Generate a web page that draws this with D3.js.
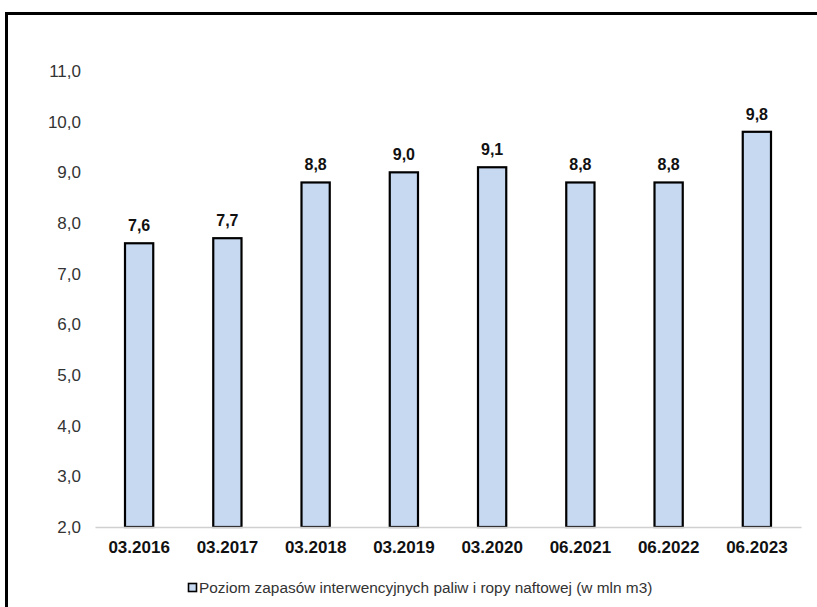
<!DOCTYPE html>
<html>
<head>
<meta charset="utf-8">
<script src="https://cdn.jsdelivr.net/npm/d3@7"></script>
<style>
  html, body { margin: 0; padding: 0; background: #fff; }
  svg { display: block; font-family: "Liberation Sans", Arial, sans-serif; }
</style>
</head>
<body>
<svg id="chart" width="817" height="607"></svg>
<script>
// Intervention stocks of fuels and crude oil (million m3)
const categories = ["03.2016", "03.2017", "03.2018", "03.2019", "03.2020", "06.2021", "06.2022", "06.2023"];
const values = [7.6, 7.7, 8.8, 9.0, 9.1, 8.8, 8.8, 9.8];
const yTicks = [2, 3, 4, 5, 6, 7, 8, 9, 10, 11];
const seriesName = "Poziom zapasów interwencyjnych paliw i ropy naftowej (w mln m3)";

const svg = d3.select("#chart");
const W = 817, H = 607;
const plot = { left: 95, right: 801, top: 71, bottom: 527 };

// frame lines (top and left)
svg.append("line").attr("x1", 5).attr("x2", W).attr("y1", 13.5).attr("y2", 13.5)
  .attr("stroke", "#000").attr("stroke-width", 3);
svg.append("line").attr("x1", 6.5).attr("x2", 6.5).attr("y1", 12).attr("y2", H)
  .attr("stroke", "#000").attr("stroke-width", 3);

const x = d3.scaleBand().domain(categories).range([plot.left, plot.right]).paddingInner(0.68).paddingOuter(0.34);
const y = d3.scaleLinear().domain([2, 11]).range([plot.bottom, plot.top]);

const fmt = v => d3.format(".1f")(v).replace(".", ",");

// y axis labels
const yAxis = svg.append("g").attr("transform", `translate(${plot.left},0)`)
  .call(d3.axisLeft(y).tickValues(yTicks).tickFormat(fmt).tickSize(0).tickPadding(14));
yAxis.select(".domain").remove();
yAxis.selectAll("text").attr("font-size", 17).attr("fill", "#333")
  .attr("font-family", "Liberation Sans, Arial, sans-serif");

// bars
svg.append("g").selectAll("rect").data(values).join("rect")
  .attr("x", (d, i) => x(categories[i]))
  .attr("width", x.bandwidth())
  .attr("y", d => y(d))
  .attr("height", d => y(2) - y(d))
  .attr("fill", "#c6d9f1")
  .attr("stroke", "#000")
  .attr("stroke-width", 2.2);

// value labels
svg.append("g").selectAll("text").data(values).join("text")
  .attr("x", (d, i) => x(categories[i]) + x.bandwidth() / 2)
  .attr("y", d => y(d) - 12)
  .attr("text-anchor", "middle")
  .attr("font-size", 16)
  .attr("font-weight", "bold")
  .attr("fill", "#111")
  .text(d => fmt(d));

// x axis
const xAxis = svg.append("g").attr("transform", `translate(0,${plot.bottom})`)
  .call(d3.axisBottom(x).tickSize(0).tickPadding(0));
xAxis.select(".domain").attr("stroke", "#d0d0d0").attr("stroke-width", 1.5);
xAxis.selectAll("text").attr("font-size", 17).attr("font-weight", "bold").attr("fill", "#111")
  .attr("font-family", "Liberation Sans, Arial, sans-serif")
  .attr("dy", null).attr("y", 26);

// legend
const legend = svg.append("g");
legend.append("rect").attr("x", 188.5).attr("y", 583.5).attr("width", 8).attr("height", 8)
  .attr("fill", "#c6d9f1").attr("stroke", "#000").attr("stroke-width", 1.6);
legend.append("text").attr("x", 199).attr("y", 593)
  .attr("font-size", 15.4).attr("fill", "#333").text(seriesName);
</script>
</body>
</html>
